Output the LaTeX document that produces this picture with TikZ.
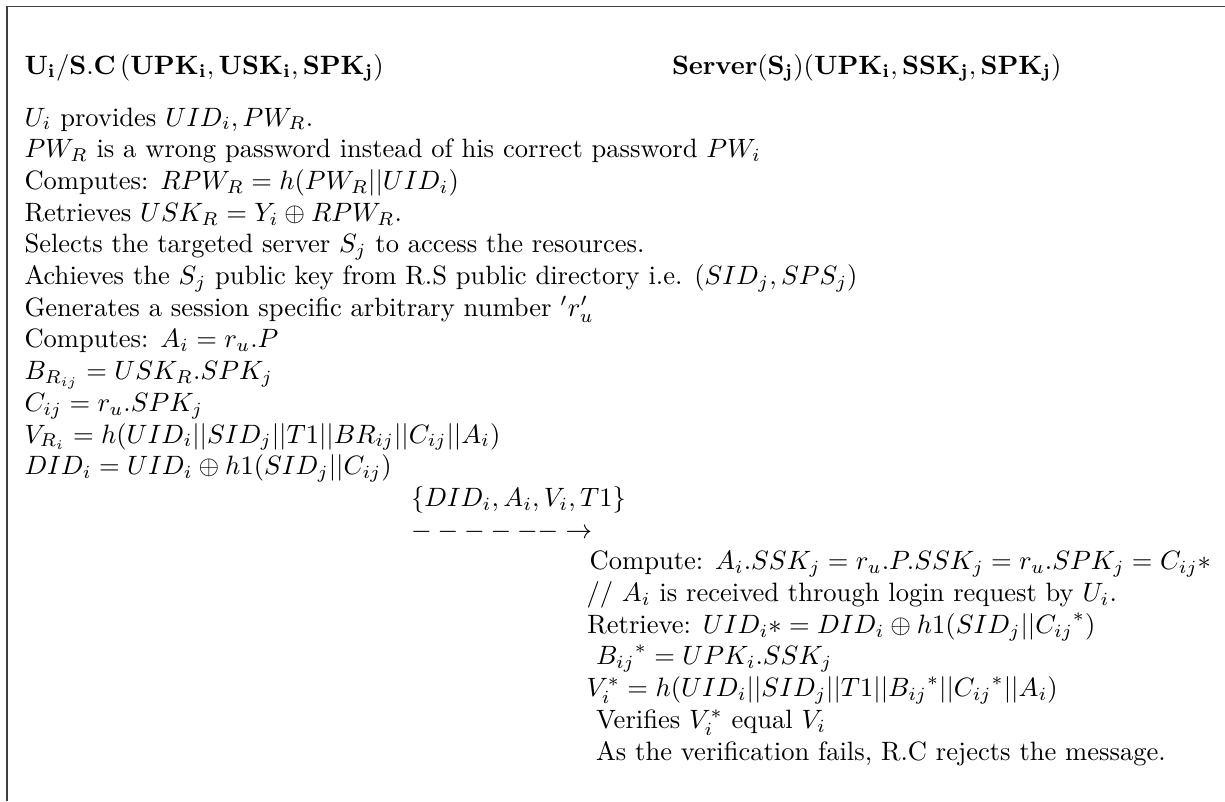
\documentclass[tikz,border=0pt]{standalone}
\begin{document}
\begin{tikzpicture}[x={(0.37665pt,0)},y={(0,-0.37665pt)},
  txt/.style={anchor=base west,inner sep=0pt,outer sep=0pt},
  frame/.style={line width=0.7pt,draw=black!75}]
\useasboundingbox (0,0) rectangle (1225,801);
\draw[frame] (7,801) -- (7,6.5) -- (1225,6.5);
% headers
\node[txt] (hu) at (24.5,74) {$\mathbf{U_i/S.C\,(UPK_i, USK_i, SPK_j)}$};
\node[txt] (hs) at (672,74) {$\mathbf{Server(S_j)(UPK_i, SSK_j, SPK_j)}$};
% user side
\node[txt] (l1) at (24.5,126.0) {$U_i$ provides $UID_i, PW_R$.};
\node[txt] (l2) at (24.5,157.7) {$PW_R$ is a wrong password instead of his correct password $PW_i$};
\node[txt] (l3) at (24.5,189.4) {Computes: $RPW_R = h(PW_R||UID_i)$};
\node[txt] (l4) at (24.5,221.1) {Retrieves $USK_R = Y_i \oplus RPW_R$.};
\node[txt] (l5) at (24.5,252.8) {Selects the targeted server $S_j$ to access the resources.};
\node[txt] (l6) at (24.5,284.5) {Achieves the $S_j$ public key from R.S public directory i.e. $(SID_j, SPS_j)$};
\node[txt] (l7) at (24.5,316.2) {Generates a session specific arbitrary number $'r'_u$};
\node[txt] (l8) at (24.5,347.9) {Computes: $A_i = r_u.P$};
\node[txt] (l9) at (24.5,379.6) {$B_{R_{ij}} = USK_R.SPK_j$};
\node[txt] (l10) at (24.5,411.3) {$C_{ij} = r_u.SPK_j$};
\node[txt] (l11) at (24.5,443.0) {$V_{R_i} = h(UID_i||SID_j||T1||BR_{ij}||C_{ij}||A_i)$};
\node[txt] (l12) at (24.5,474.7) {$DID_i = UID_i \oplus h1(SID_j||C_{ij})$};
% message
\node[txt] (msg) at (411,506.4) {$\{DID_i, A_i, V_i, T1\}$};
\node[txt] (arr) at (411,538.1) {$------\rightarrow$};
% server side
\node[txt] (s1) at (589.7,569.8) {Compute: $A_i.SSK_j = r_u.P.SSK_j = r_u.SPK_j = C_{ij}*$};
\node[txt] (s2) at (586.5,601.5) {// $A_i$ is received through login request by $U_i$.};
\node[txt] (s3) at (587.4,633.2) {Retrieve: $UID_i* = DID_i \oplus h1(SID_j||{C_{ij}}^*)$};
\node[txt] (s4) at (596,664.9) {${B_{ij}}^* = UPK_i.SSK_j$};
\node[txt] (s5) at (586.5,696.6) {$V_i^* = h(UID_i||SID_j||T1||{B_{ij}}^*||{C_{ij}}^*||A_i)$};
\node[txt] (s6) at (596,728.3) {Verifies $V_i^*$ equal $V_i$};
\node[txt] (s7) at (596,760.0) {As the verification fails, R.C rejects the message.};
\end{tikzpicture}
\end{document}
